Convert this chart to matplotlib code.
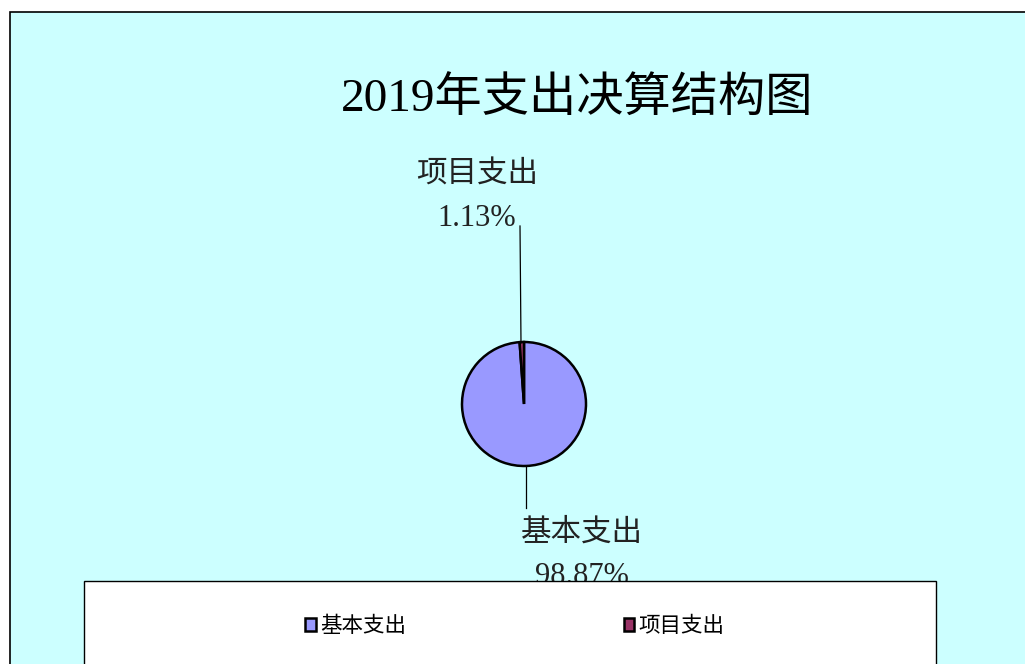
import matplotlib
matplotlib.use('Agg')
import matplotlib.pyplot as plt
from matplotlib.patches import Rectangle, Patch

plt.rcParams['font.family'] = ['Liberation Serif', 'Noto Sans CJK SC', 'DejaVu Sans']

title = '2019年支出决算结构图'
categories = ['基本支出', '项目支出']
shares = [98.87, 1.13]
colors = ['#9999FF', '#993366']

W, H = 1025, 664
fig = plt.figure(figsize=(W / 100, H / 100), dpi=100)
fig.patch.set_facecolor('white')
ax = fig.add_axes([0, 0, 1, 1])

# y axis is flipped below (pixel style), so start at -90 and go counterclockwise
# in data terms -> visually starts at top and runs clockwise
wedges, _ = ax.pie(shares, colors=colors, startangle=-90, counterclock=True,
                   center=(524, 404), radius=62, frame=True,
                   wedgeprops=dict(edgecolor='black', linewidth=1.8))
ax.set_xlim(0, W)
ax.set_ylim(H, 0)
ax.set_aspect('auto')
ax.axis('off')

# chart area background with border
ax.add_patch(Rectangle((10, 12), W + 20, H + 20, facecolor='#CCFFFF',
                       edgecolor='black', linewidth=1.2, zorder=0))

ax.text(577, 100, title, fontsize=34, ha='center', va='center', zorder=3)

# leader lines and labels
ax.plot([521, 520], [343, 226], color='black', linewidth=0.9, zorder=3)
ax.plot([526, 526], [466, 508], color='black', linewidth=0.9, zorder=3)
lab = dict(fontsize=22, ha='center', va='center', color='#222222')
ax.text(477, 175, categories[1], **lab)
ax.text(477, 219, f'{shares[1]:.2f}%', **lab)
ax.text(582, 533, categories[0], **lab)
ax.text(582, 576, f'{shares[0]:.2f}%', **lab)

# legend box
ax.add_patch(Rectangle((84, 581), 852, 120, facecolor='white',
                       edgecolor='black', linewidth=1.0, zorder=4))
handles = [Patch(facecolor=c, edgecolor='black', linewidth=1.8) for c in colors]
leg = ax.legend(handles, categories, ncol=2, frameon=False, fontsize=15.5,
                loc='center', bbox_to_anchor=(515 / W, 1 - 627 / H),
                bbox_transform=fig.transFigure, handlelength=0.5,
                handleheight=0.5, handletextpad=0.2, columnspacing=10.1)
leg.set_zorder(5)

fig.savefig('out.png', dpi=100, facecolor='white')
